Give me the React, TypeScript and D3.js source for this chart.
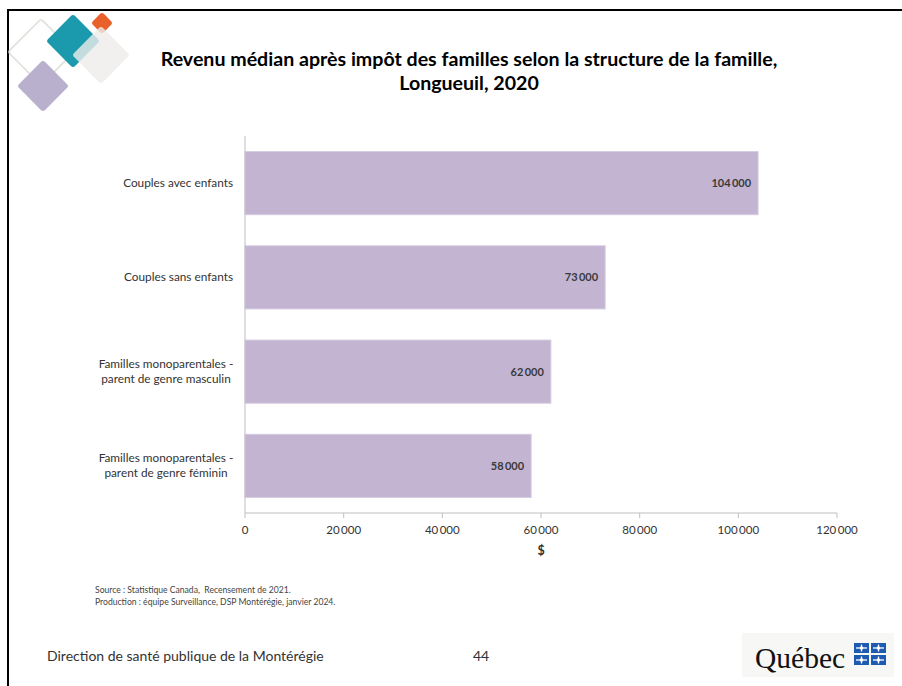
import React from "react";
import * as d3 from "d3";

const categories: string[][] = [
  ["Couples avec enfants"],
  ["Couples sans enfants"],
  ["Familles monoparentales -", "parent de genre masculin"],
  ["Familles monoparentales -", "parent de genre féminin"],
];
const values: number[] = [104000, 73000, 62000, 58000];
const xTicks: number[] = [0, 20000, 40000, 60000, 80000, 100000, 120000];
const titleLines: string[] = [
  "Revenu médian après impôt des familles selon la structure de la famille,",
  "Longueuil, 2020",
];
const sourceLines: string[] = [
  "Source : Statistique Canada,\u00a0 Recensement de 2021.",
  "Production : équipe Surveillance, DSP Montérégie, janvier 2024.",
];
const footerText = "Direction de santé publique de la Montérégie";
const pageNumber = "44";
const axisTitle = "$";

const W = 902;
const H = 686;
const FONT = "Lato, 'Open Sans', 'DejaVu Sans', sans-serif";

const fmt = (v: number) => {
  const s = d3.format(",")(v);
  return s.replace(/,/g, "\u2009");
};

function Diamond({ cx, cy, r, fill, stroke, opacity }: { cx: number; cy: number; r: number; fill: string; stroke?: string; opacity?: number }) {
  const s = r * Math.SQRT2;
  return (
    <rect
      x={-s / 2}
      y={-s / 2}
      width={s}
      height={s}
      rx={3}
      fill={fill}
      stroke={stroke || "none"}
      strokeWidth={stroke ? 1.5 : 0}
      opacity={opacity ?? 1}
      transform={`translate(${cx},${cy}) rotate(45)`}
    />
  );
}

function FlagCell({ x, y, w, h }: { x: number; y: number; w: number; h: number }) {
  const cx = x + w / 2;
  const cy = y + h / 2;
  return (
    <g>
      <rect x={x} y={y} width={w} height={h} fill="#1f5ab1" />
      <line x1={cx} y1={y + 1.5} x2={cx} y2={y + h - 1.5} stroke="#fff" strokeWidth={1.3} />
      <line x1={x + 2} y1={cy} x2={x + w - 2} y2={cy} stroke="#fff" strokeWidth={1.3} />
      <circle cx={cx} cy={cy} r={1.8} fill="#fff" />
    </g>
  );
}

export default function App() {
  const x = d3.scaleLinear().domain([0, 120000]).range([245, 837]);
  const y = d3
    .scaleBand<number>()
    .domain(d3.range(values.length))
    .range([136, 513])
    .paddingInner(0.33)
    .paddingOuter(0.165);
  const axisY = 513;

  return (
    <svg
      width={W}
      height={H}
      style={{ position: "absolute", left: 0, top: 0, background: "#fff" }}
      fontFamily={FONT}
    >
      <rect x={0} y={0} width={W} height={H} fill="#fff" />
      {/* slide border */}
      <rect x={8} y={10} width={W + 20} height={H + 20} fill="none" stroke="#000" strokeWidth={2} />

      {/* decorative diamonds */}
      <Diamond cx={41} cy={52} r={33} fill="none" stroke="#dde3da" />
      <Diamond cx={43} cy={86} r={26} fill="#b8b0cc" />
      <Diamond cx={102} cy={23} r={11} fill="#e8602a" />
      <Diamond cx={73} cy={41} r={27} fill="#1a9aac" />
      <Diamond cx={101} cy={55} r={29} fill="#eeeceb" opacity={0.8} />

      {/* title */}
      {titleLines.map((t, i) => (
        <text
          key={i}
          x={469}
          y={66 + i * 24}
          textAnchor="middle"
          fontSize={19.6}
          fontWeight={700}
          fill="#000"
        >
          {t}
        </text>
      ))}

      {/* bars */}
      {values.map((v, i) => (
        <g key={i}>
          <rect
            x={x(0)}
            y={y(i)!}
            width={x(v) - x(0)}
            height={y.bandwidth()}
            fill="#c3b4d2"
            stroke="#d6cce2"
            strokeWidth={1}
          />
          <text
            x={x(v) - 7}
            y={y(i)! + y.bandwidth() / 2 + 4}
            textAnchor="end"
            fontSize={11}
            fontWeight={700}
            fill="#3a3a3a"
          >
            {fmt(v)}
          </text>
        </g>
      ))}

      {/* y axis line */}
      <line x1={245} y1={136} x2={245} y2={axisY} stroke="#bfbfbf" strokeWidth={1} />
      {/* category labels */}
      {categories.map((lines, i) => {
        const cy = y(i)! + y.bandwidth() / 2;
        const lh = 15;
        const start = cy - ((lines.length - 1) * lh) / 2 + 4;
        const multi = lines.length > 1;
        return (
          <text key={i} fontSize={11.8} fill="#333">
            {lines.map((l, j) => (
              <tspan key={j} x={multi ? 166 : 233} y={start + j * lh} textAnchor={multi ? "middle" : "end"}>
                {l}
              </tspan>
            ))}
          </text>
        );
      })}

      {/* x axis */}
      <line x1={x(0)} y1={axisY} x2={x(120000)} y2={axisY} stroke="#bfbfbf" strokeWidth={1} />
      {xTicks.map((t) => (
        <g key={t}>
          <line x1={x(t)} y1={axisY} x2={x(t)} y2={axisY + 5} stroke="#bfbfbf" />
          <text x={x(t)} y={534} textAnchor="middle" fontSize={11.5} fill="#333">
            {fmt(t)}
          </text>
        </g>
      ))}
      <text x={x(60000)} y={555} textAnchor="middle" fontSize={12.5} fontWeight={700} fill="#333">
        {axisTitle}
      </text>

      {/* sources */}
      {sourceLines.map((s, i) => (
        <text key={i} x={95} y={593 + i * 12} fontSize={8.6} fill="#444">
          {s}
        </text>
      ))}

      {/* footer */}
      <text x={47} y={661} fontSize={14} fill="#333">
        {footerText}
      </text>
      <text x={481} y={661} textAnchor="middle" fontSize={14} fill="#333">
        {pageNumber}
      </text>

      {/* Québec logo */}
      <rect x={742} y={633} width={152} height={44} fill="#f7f7f6" />
      <text x={755} y={668} fontFamily="'Liberation Serif', 'DejaVu Serif', serif" fontSize={29.5} fill="#111">
        Québec
      </text>
      <FlagCell x={854} y={643} w={15} h={10} />
      <FlagCell x={871} y={643} w={15} h={10} />
      <FlagCell x={854} y={655} w={15} h={10} />
      <FlagCell x={871} y={655} w={15} h={10} />
    </svg>
  );
}
